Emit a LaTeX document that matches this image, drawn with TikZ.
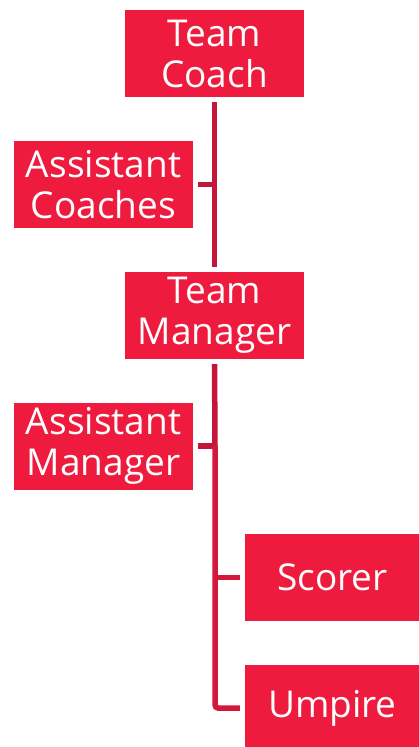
\documentclass[tikz,border=0pt]{standalone}
\usepackage{fontspec}
\setmainfont{Open Sans}
\usepackage{tikz}

\definecolor{boxred}{HTML}{EE1B3E}
\definecolor{linered}{HTML}{C3163A}
\definecolor{lowred}{HTML}{D3183C}

\tikzset{
  rolebox/.style={rectangle, fill=boxred, text=white, inner sep=0pt,
    minimum height=87pt, align=center,
    font=\fontsize{37}{41}\selectfont},
  wide/.style={minimum width=179pt},
  narrow/.style={minimum width=175pt},
  conn/.style={draw=linered, line width=5.5pt},
  lowconn/.style={draw=lowred, line width=5.5pt, rounded corners=3pt}
}

\begin{document}
\begin{tikzpicture}[x=1pt,y=-1pt]

\useasboundingbox (0,0) rectangle (419,747);

%% roles
\node[rolebox, wide]   (coach)   at (214.5,53.5)  {Team\\Coach};
\node[rolebox, wide]   (acoach)  at (103.5,184.5) {Assistant\\Coaches};
\node[rolebox, wide]   (manager) at (214.5,315.5) {Team\\Manager};
\node[rolebox, wide]   (amanager) at (103.5,446)  {Assistant\\Manager};
\node[rolebox, narrow] (scorer)  at (332.5,577.5) {Scorer};
\node[rolebox, narrow] (umpire)  at (332.5,708.5) {Umpire};

%% joints on the spine
\coordinate (jac) at (215,184.5);
\coordinate (jam) at (215,446);
\coordinate (jsc) at (215,577.5);
\coordinate (jum) at (215,708);

%% spine, top part
\draw[conn, shorten <=5pt, shorten >=5pt] (coach.south) -- (manager.north);
\draw[conn, shorten <=5pt] (acoach.east) -- (jac);

%% spine, lower part
\draw[conn, shorten <=5pt] (manager.south) -- (jam);
\draw[conn, shorten <=5pt] (amanager.east) -- (jam);
\draw[lowconn] (jam) -- (jum) -- ([xshift=-5pt]umpire.west |- jum);
\draw[lowconn, shorten >=5pt] (jsc) -- (scorer.west);

\end{tikzpicture}
\end{document}
